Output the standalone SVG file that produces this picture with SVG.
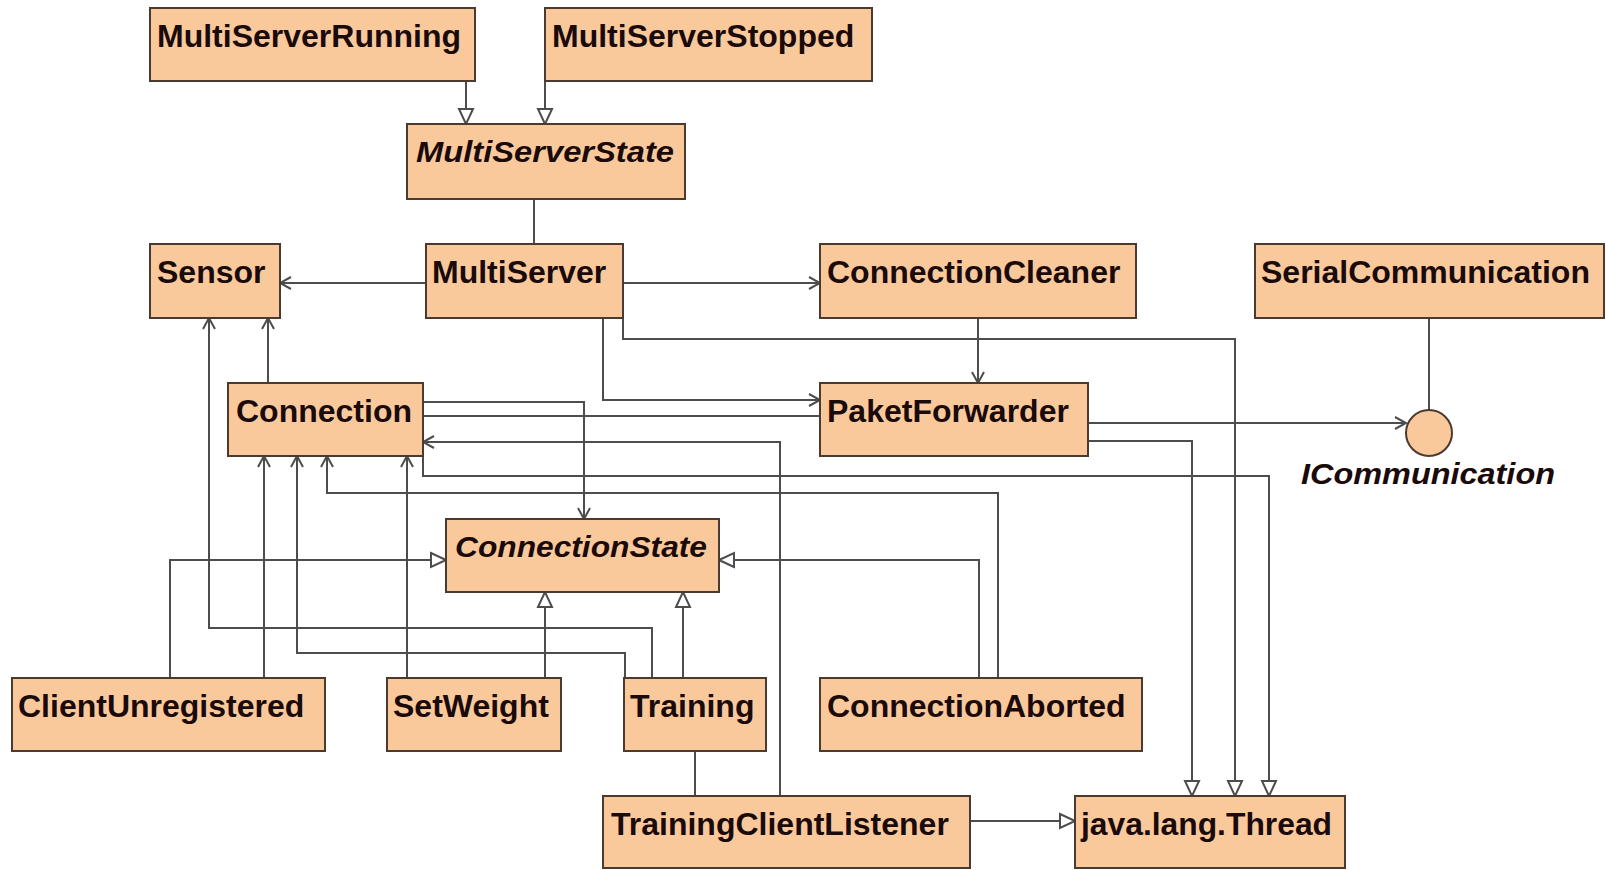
<svg xmlns="http://www.w3.org/2000/svg" width="1606" height="870" viewBox="0 0 1606 870">
<style>
.box{fill:#F9C99B;stroke:#4a3a30;stroke-width:2}
.t{font-family:"Liberation Sans",Arial,sans-serif;font-weight:bold;font-size:32px;fill:#1a0a0a}
.ti{font-family:"Liberation Sans",Arial,sans-serif;font-weight:bold;font-style:italic;font-size:30px;fill:#1a0a0a}
.c{fill:none;stroke:#4d4d4d;stroke-width:2}
.gen{marker-end:url(#gen)}
.arr{marker-end:url(#arr)}
</style>
<defs>
<marker id="gen" markerUnits="userSpaceOnUse" markerWidth="18" markerHeight="18" refX="15" refY="7" orient="auto" viewBox="-1 -1 18 16">
<path d="M0,0 L15,7 L0,14 z" fill="#ffffff" stroke="#4d4d4d" stroke-width="2"/>
</marker>
<marker id="arr" markerUnits="userSpaceOnUse" markerWidth="14" markerHeight="14" refX="11" refY="6" orient="auto" viewBox="-1 -1 14 14">
<path d="M0,0 L11,6 L0,12" fill="none" stroke="#4d4d4d" stroke-width="2"/>
</marker>
</defs>
<rect width="1606" height="870" fill="#ffffff"/>
<g id="connectors">
<path class="c gen" d="M466,81 V124"/>
<path class="c gen" d="M545,81 V124"/>
<path class="c" d="M534,199 V244"/>
<path class="c arr" d="M426,283 H280"/>
<path class="c arr" d="M623,283 H820"/>
<path class="c gen" d="M623,318 V339 H1235 V796"/>
<path class="c arr" d="M603,318 V400 H820"/>
<path class="c arr" d="M423,402 H584 V519"/>
<path class="c" d="M423,416 H820"/>
<path class="c arr" d="M780,796 V442 H423"/>
<path class="c gen" d="M423,456 V476 H1269 V796"/>
<path class="c arr" d="M998,678 V493 H327 V456"/>
<path class="c arr" d="M264,678 V456"/>
<path class="c arr" d="M625,678 V653 H297 V456"/>
<path class="c arr" d="M407,678 V456"/>
<path class="c arr" d="M652,678 V628 H209 V318"/>
<path class="c arr" d="M268,383 V318"/>
<path class="c gen" d="M170,678 V560 H446"/>
<path class="c gen" d="M545,678 V592"/>
<path class="c gen" d="M683,678 V592"/>
<path class="c gen" d="M979,678 V560 H719"/>
<path class="c arr" d="M978,318 V383"/>
<path class="c arr" d="M1088,423 H1406"/>
<path class="c" d="M1429,318 V410"/>
<path class="c gen" d="M1088,441 H1192 V796"/>
<path class="c" d="M695,751 V796"/>
<path class="c gen" d="M970,821 H1075"/>
</g>
<g id="MultiServerRunning"><rect class="box" x="150" y="8" width="325" height="73"/><text class="t" x="157" y="47">MultiServerRunning</text></g>
<g id="MultiServerStopped"><rect class="box" x="545" y="8" width="327" height="73"/><text class="t" x="552" y="47">MultiServerStopped</text></g>
<g id="MultiServerState"><rect class="box" x="407" y="124" width="278" height="75"/><text class="ti" x="416" y="162" textLength="258" lengthAdjust="spacingAndGlyphs">MultiServerState</text></g>
<g id="Sensor"><rect class="box" x="150" y="244" width="130" height="74"/><text class="t" x="157" y="283">Sensor</text></g>
<g id="MultiServer"><rect class="box" x="426" y="244" width="197" height="74"/><text class="t" x="432" y="283">MultiServer</text></g>
<g id="ConnectionCleaner"><rect class="box" x="820" y="244" width="316" height="74"/><text class="t" x="827" y="283">ConnectionCleaner</text></g>
<g id="SerialCommunication"><rect class="box" x="1255" y="244" width="349" height="74"/><text class="t" x="1261" y="283">SerialCommunication</text></g>
<g id="Connection"><rect class="box" x="228" y="383" width="195" height="73"/><text class="t" x="236" y="422">Connection</text></g>
<g id="PaketForwarder"><rect class="box" x="820" y="383" width="268" height="73"/><text class="t" x="827" y="422">PaketForwarder</text></g>
<g id="ICommunication"><ellipse cx="1429" cy="433" rx="23" ry="23" fill="#F9C99B" stroke="#4a3a30" stroke-width="2"/><text class="ti" x="1301" y="484" textLength="254" lengthAdjust="spacingAndGlyphs">ICommunication</text></g>
<g id="ConnectionState"><rect class="box" x="446" y="519" width="273" height="73"/><text class="ti" x="455" y="557" textLength="252" lengthAdjust="spacingAndGlyphs">ConnectionState</text></g>
<g id="ClientUnregistered"><rect class="box" x="12" y="678" width="313" height="73"/><text class="t" x="18" y="717">ClientUnregistered</text></g>
<g id="SetWeight"><rect class="box" x="387" y="678" width="174" height="73"/><text class="t" x="393" y="717">SetWeight</text></g>
<g id="Training"><rect class="box" x="624" y="678" width="142" height="73"/><text class="t" x="630" y="717">Training</text></g>
<g id="ConnectionAborted"><rect class="box" x="820" y="678" width="322" height="73"/><text class="t" x="827" y="717">ConnectionAborted</text></g>
<g id="TrainingClientListener"><rect class="box" x="603" y="796" width="367" height="72"/><text class="t" x="611" y="835">TrainingClientListener</text></g>
<g id="java.lang.Thread"><rect class="box" x="1075" y="796" width="270" height="72"/><text class="t" x="1081" y="835" textLength="251" lengthAdjust="spacingAndGlyphs">java.lang.Thread</text></g>
</svg>
